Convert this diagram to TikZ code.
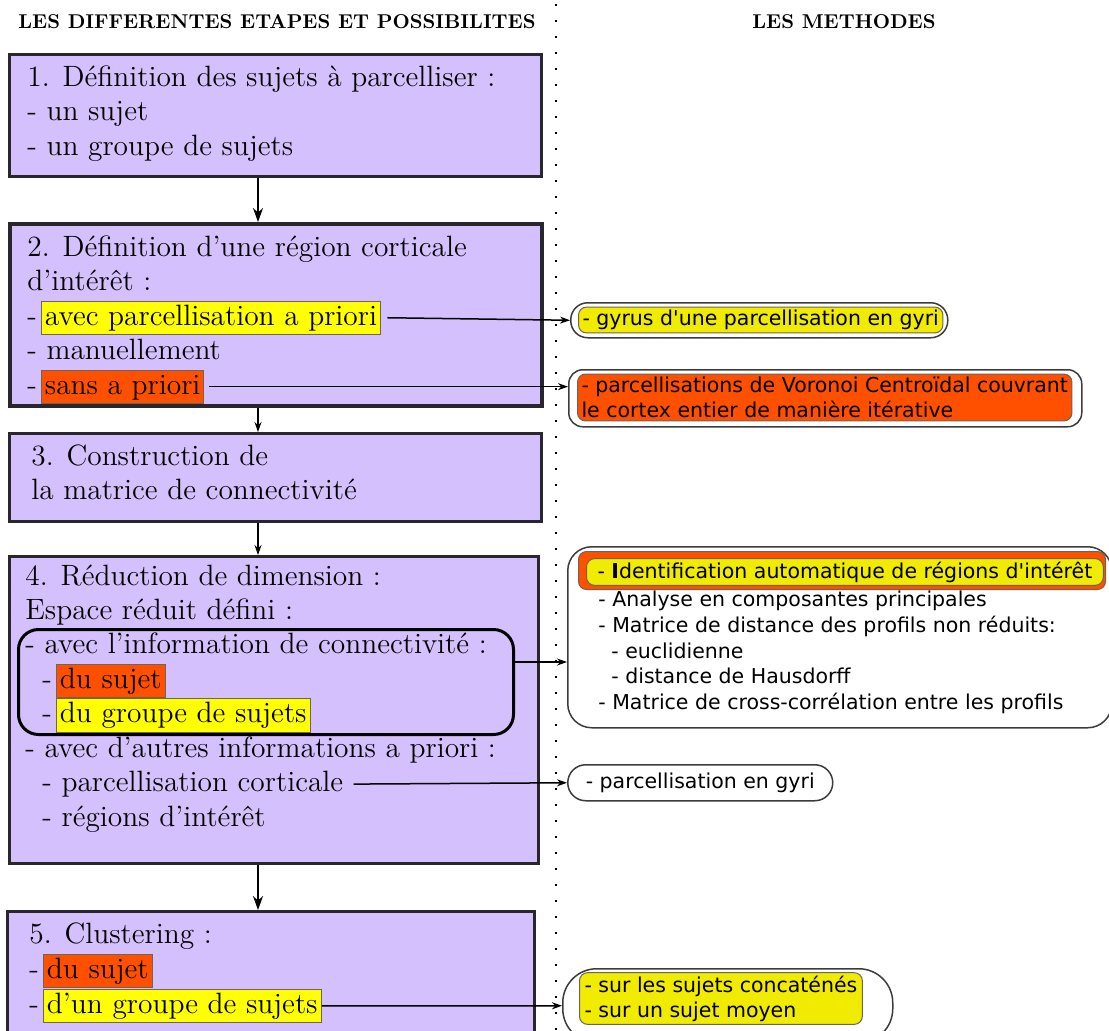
\documentclass[tikz,border=0pt]{standalone}
\usepackage{fontspec}
\newfontfamily\methfont{DejaVu Sans}
\usetikzlibrary{arrows.meta}

\definecolor{stepfill}{RGB}{212,192,252}
\definecolor{stepline}{RGB}{42,38,46}
\definecolor{hlyellow}{RGB}{255,255,0}
\definecolor{hlorange}{RGB}{255,80,0}
\definecolor{hlline}{RGB}{110,100,90}
\definecolor{methyellow}{RGB}{240,235,0}
\definecolor{methline}{RGB}{60,60,60}

\newcommand{\hlbox}[2]{{\setlength{\fboxsep}{1.5pt}\setlength{\fboxrule}{0.5pt}\fcolorbox{hlline}{#1}{\vphantom{dp}#2}}}

\tikzset{
  stepbox/.style={draw=stepline, line width=1.5pt, fill=stepfill, anchor=north west, inner sep=0pt},
  steptext/.style={anchor=base west, inner sep=0pt, font=\fontsize{14.7}{17.25}\selectfont},
  header/.style={anchor=base west, inner sep=0pt, font=\fontsize{10}{12}\selectfont\bfseries},
  group/.style={draw, line width=1.5pt, rounded corners=10pt, anchor=north west, inner sep=0pt},
  methout/.style={draw=methline, line width=0.75pt, fill=white, anchor=north west, inner sep=0pt,
    font=\methfont\fontsize{10.25}{12.5}\selectfont},
  methin/.style={draw=hlline, line width=0.5pt, rounded corners=4pt, anchor=west, align=left,
    inner xsep=2pt, inner ysep=1.5pt, font=\methfont\fontsize{10.25}{12.5}\selectfont},
  methtext/.style={anchor=base west, inner sep=0pt, font=\methfont\fontsize{10.25}{12.5}\selectfont},
  arr/.style={-{Stealth[length=7pt,width=5pt]}, line width=0.75pt},
  arrs/.style={-{Stealth[length=5pt,width=3.5pt]}, line width=0.75pt},
  harr/.style={-{Stealth[length=5pt,width=3.5pt]}, line width=0.75pt},
}

\begin{document}
\begin{tikzpicture}[x=0.5pt,y=-0.5pt]
    \useasboundingbox (0,0) rectangle (1109,1030);
    \clip (0,0) rectangle (1109,1030);

    % headers
    \node[header] (hleft) at (18,28) {LES DIFFERENTES ETAPES ET POSSIBILITES};
    \node[header] (hright) at (752,28) {LES METHODES};

    \coordinate (septop) at (556,4);
    \coordinate (sepbot) at (556,1030);
    \draw[line width=1pt, dash pattern=on 1pt off 7pt] (septop) -- (sepbot);

    % the steps
    \node[stepbox, minimum width=266pt, minimum height=61pt] (step1) at (8,53) {};
    \node[stepbox, line width=2pt, minimum width=266pt, minimum height=91pt] (step2) at (8,222) {};
    \node[stepbox, minimum width=266pt, minimum height=44pt] (step3) at (8,432) {};
    \node[stepbox, minimum width=264.5pt, minimum height=153.5pt] (step4) at (8,555) {};
    \node[stepbox, minimum width=263.5pt, minimum height=80pt] (step5) at (6,910) {};

    \node[steptext] (l1a) at (27,86) {1. Définition des sujets à parcelliser :};
    \node[steptext] (l1b) at (27,120.5) {- un sujet};
    \node[steptext] (l1c) at (27,155) {- un groupe de sujets};

    \node[steptext] (l2a) at (27,256) {2. Définition d'une région corticale};
    \node[steptext] (l2b) at (27,290.5) {d'intérêt :};
    \node[steptext] (l2c) at (27,325) {-\kern2pt\hlbox{hlyellow}{avec parcellisation a priori}};
    \node[steptext] (l2d) at (27,359.5) {- manuellement};
    \node[steptext] (l2e) at (27,394) {-\kern2pt\hlbox{hlorange}{sans a priori}};

    \node[steptext] (l3a) at (31,465) {3. Construction de};
    \node[steptext] (l3b) at (31,499) {la matrice de connectivité};

    \node[group, minimum width=247.5pt, minimum height=52.5pt] (conn) at (17,628) {};
    \node[steptext] (l4a) at (25,585) {4. Réduction de dimension :};
    \node[steptext] (l4b) at (25,619) {Espace réduit défini :};
    \node[steptext] (l4c) at (25,653.5) {- avec l'information de connectivité :};
    \node[steptext] (l4d) at (42,688) {-\kern2pt\hlbox{hlorange}{du sujet}};
    \node[steptext] (l4e) at (42,722.5) {-\kern2pt\hlbox{hlyellow}{du groupe de sujets}};
    \node[steptext] (l4f) at (25,757) {- avec d'autres informations a priori :};
    \node[steptext] (l4g) at (42,791.5) {- parcellisation corticale};
    \node[steptext] (l4h) at (42,826) {- régions d'intérêt};

    \node[steptext] (l5a) at (29,943) {5. Clustering :};
    \node[steptext] (l5b) at (29,978) {-\kern2pt\hlbox{hlorange}{du sujet}};
    \node[steptext] (l5c) at (29,1013) {-\kern2pt\hlbox{hlyellow}{d'un groupe de sujets}};

    % the methods
    \node[methout, rounded corners=8.5pt, minimum width=188.5pt, minimum height=17.5pt] (m1) at (570,302) {};
    \node[methin, fill=methyellow] (m1in) at (578,320) {- gyrus d'une parcellisation en gyri};

    \node[methout, rounded corners=7pt, minimum width=256.5pt, minimum height=28.5pt] (m2) at (568,369) {};
    \node[methin, fill=hlorange] (m2in) at (577,397.5) {- parcellisations de Voronoi Centroïdal couvrant\\le cortex entier de manière itérative};

    \node[methout, rounded corners=12pt, minimum width=272pt, minimum height=90.5pt] (m4) at (567,546) {};
    \node[methin, anchor=north west, fill=hlorange, minimum width=263.5pt, minimum height=19pt] (m4bar) at (578,551) {};
    \node[methin, fill=methyellow, inner xsep=5.5pt] (m4in) at (586,572) {- \textbf{I}dentification automatique de régions d'intérêt};
    \node[methtext] (m4a) at (598,606.5) {- Analyse en composantes principales};
    \node[methtext] (m4b) at (598,632.5) {- Matrice de distance des profils non réduits:};
    \node[methtext] (m4c) at (611,658.5) {- euclidienne};
    \node[methtext] (m4d) at (611,683.5) {- distance de Hausdorff};
    \node[methtext] (m4e) at (598,709.5) {- Matrice de cross-corrélation entre les profils};

    \node[methout, rounded corners=9pt, minimum width=132.5pt, minimum height=18pt] (m5) at (567,764) {- parcellisation en gyri};

    \node[methout, rounded corners=17pt, minimum width=165pt, minimum height=37pt] (m6) at (562,968) {};
    \node[methin, fill=methyellow, inner xsep=2.5pt] (m6in) at (579,998.5) {- sur les sujets concaténés\\- sur un sujet moyen};

    % arrows
    \coordinate (spine) at (258,0);
    \draw[arr] (step1.south -| spine) -- (step2.north -| spine);
    \draw[arrs] (step2.south -| spine) -- (step3.north -| spine);
    \draw[arrs] (step3.south -| spine) -- (step4.north -| spine);
    \draw[arr] (step4.south -| spine) -- (step5.north -| spine);

    \draw[harr, shorten <=3pt] (l2c.east) -- (m1.west);
    \draw[harr, shorten <=2pt] (l2e.east) -- (l2e.east -| m2.west);
    \coordinate (connout) at ([yshift=10pt]conn.east);
    \draw[harr] (connout) -- (connout -| m4.west);
    \draw[harr, shorten <=5pt] (l4g.east) -- (m5.west);
    \draw[harr] (l5c.east) -- (m6.west);
\end{tikzpicture}
\end{document}
